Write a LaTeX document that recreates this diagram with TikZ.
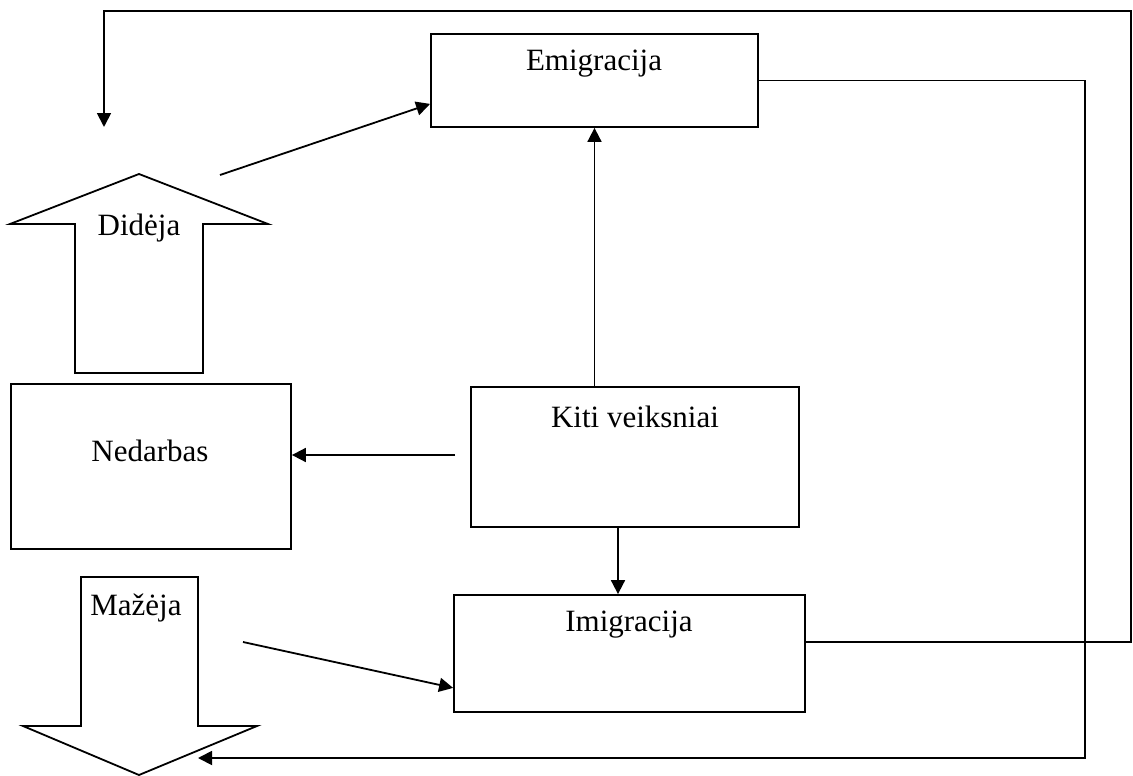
\documentclass[tikz,border=0pt]{standalone}
\usepackage{fontspec}
\setmainfont{Liberation Serif}
\usetikzlibrary{arrows.meta}
\begin{document}
\begin{tikzpicture}[x=1pt,y=-1pt,
  boxnode/.style={draw,line width=1.8pt,rectangle,inner sep=0pt},
  txt/.style={inner sep=0pt,font=\fontsize{31}{37}\selectfont},
  arr/.style={line width=1.8pt,-{Triangle[length=14pt,width=14pt]}},
  blockarrow/.style={draw,line width=1.8pt,line join=miter}]
\useasboundingbox (0,0) rectangle (1133,776);
% boxes
\node[boxnode,minimum width=327pt,minimum height=93pt] (emi) at (594.5,80.5) {};
\node[boxnode,minimum width=328pt,minimum height=140pt] (kiti) at (635,457) {};
\node[boxnode,minimum width=280pt,minimum height=165pt] (ned) at (151,466.5) {};
\node[boxnode,minimum width=351pt,minimum height=117pt] (imi) at (629.5,653.5) {};
\node[txt] (emit) at (594,64) {Emigracija};
\node[txt] (kitit) at (635,417) {Kiti veiksniai};
\node[txt] (nedt) at (150,451) {Nedarbas};
\node[txt] (imit) at (629,625) {Imigracija};
% block arrows
\draw[blockarrow] (139,174) -- (268,224) -- (203,224) -- (203,373) -- (75,373) -- (75,224) -- (10,224) -- cycle;
\draw[blockarrow] (81,577) -- (198,577) -- (198,726) -- (257,726) -- (139,775) -- (23,726) -- (81,726) -- cycle;
\node[txt] (didt) at (139,228) {Didėja};
\node[txt] (mazt) at (136,608) {Mažėja};
% coordinates
\coordinate (c1) at (220,175);
\coordinate (c2) at (455,455);
\coordinate (c3) at (243,642);
\coordinate (c4) at (198,758);
\coordinate (c5) at (104,127);
\coordinate (r1) at (1131,11);
\coordinate (r2) at (1085,758);
% connectors
\draw[arr] (c1) -- ([yshift=24pt]emi.south west);
\draw[arr] (kiti.north -| emi.south) -- (emi.south);
\draw[arr] (c2) -- (ned.east |- c2);
\draw[arr] ([xshift=-17pt]kiti.south) -- ([xshift=-17pt]kiti.south |- imi.north);
\draw[arr] (c3) -- ([yshift=25pt]imi.south west);
\draw[arr] (emi.east) -| (r2) -- (c4);
\draw[arr] ([yshift=11.5pt]imi.east) -| (r1) -| (c5);
\end{tikzpicture}
\end{document}
